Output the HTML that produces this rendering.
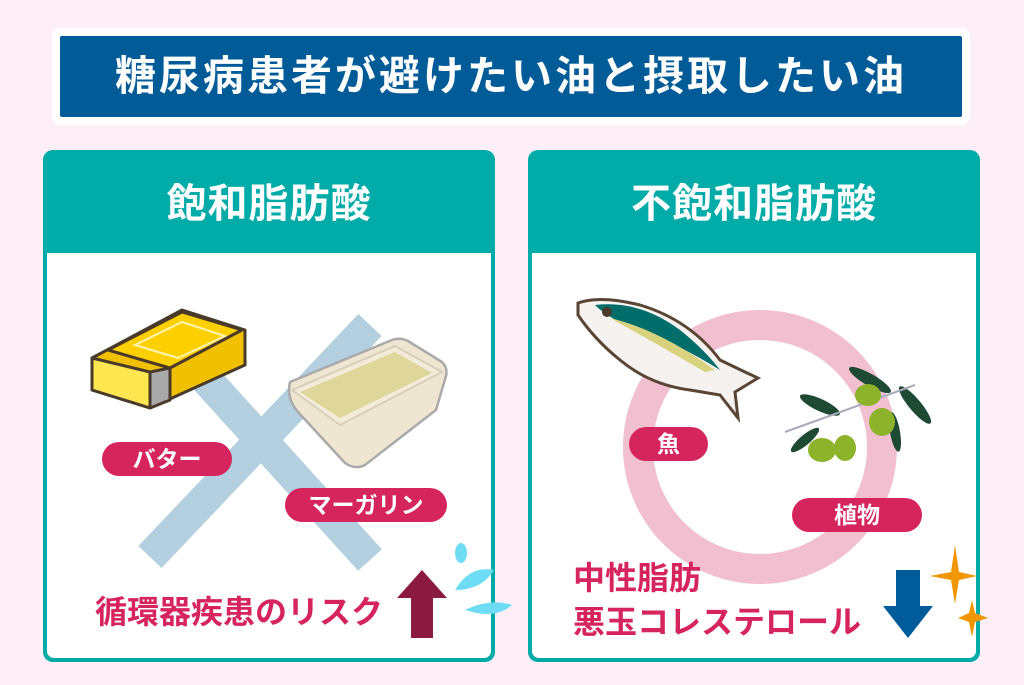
<!DOCTYPE html>
<html><head><meta charset="utf-8"><style>
*{margin:0;padding:0;box-sizing:border-box}
body{width:1024px;height:685px;background:#fdeef7;position:relative;overflow:hidden;font-family:"Liberation Sans","Noto Sans CJK JP",sans-serif;font-weight:bold}
.abs{position:absolute}
.frame{left:52px;top:28px;width:918px;height:97px;background:#fff;border-radius:8px}
.title{left:60px;top:36px;width:902px;height:81px;background:#005b97;border-radius:2px;color:#fff;font-size:41px;text-align:center;line-height:81px;letter-spacing:3px}
.panel{background:#00aba8;border-radius:10px;top:150px;width:452px;height:512px}
.panel .hd{color:#fff;font-size:40px;text-align:center;line-height:108px;height:103px;letter-spacing:1px}
.panel .bd{position:absolute;left:4px;right:4px;top:103px;bottom:4px;background:#fff;border-radius:0 0 7px 7px}
.pill{background:#d6245c;color:#fff;border-radius:17px;height:34px;line-height:34px;text-align:center;font-size:23px}
.red{color:#d6245c;font-size:32px;white-space:nowrap;line-height:40px}
</style></head><body>
<div class="abs frame"></div>
<div class="abs title">糖尿病患者が避けたい油と摂取したい油</div>
<div class="abs panel" style="left:43px"><div class="hd">飽和脂肪酸</div><div class="bd"></div></div>
<div class="abs panel" style="left:528px"><div class="hd">不飽和脂肪酸</div><div class="bd"></div></div>
<svg class="abs" style="left:0;top:0" width="1024" height="685">
<g stroke="#b3cfe0" stroke-width="32">
<line x1="150" y1="557" x2="370" y2="325"/>
<line x1="175" y1="345" x2="370" y2="560"/>
</g>
<circle cx="760" cy="447" r="122" fill="none" stroke="#f2bfd0" stroke-width="30"/>
<g stroke="#4a3a2a" stroke-width="3" stroke-linejoin="round">
<polygon points="92,358 182,310 245,330 245,365 150,408 92,390" fill="#f1c000"/>
<polygon points="92,358 150,372 150,408 92,390" fill="#fde650"/>
<polygon points="108,350 182,312 242,330 170,368" fill="#ffd000"/>
<polygon points="150,372 170,368 170,400 150,408" fill="#aaa"/>
</g>
<polygon points="135,345 182,322 225,336 178,358" fill="none" stroke="#fff5b0" stroke-width="2"/>
<path d="M290,382 L392,340 Q400,337 408,341 L442,362 Q448,368 446,376 L436,410 L365,465 Q355,470 345,463 L298,412 Q286,398 290,382Z" fill="#efe6d2" stroke="#aaa" stroke-width="2.5" stroke-linejoin="round"/>
<path d="M292,390 L395,346 L442,372 L340,425Z" fill="#f3ecdb" stroke="#d8cfba" stroke-width="2"/>
<path d="M300,392 L395,352 L432,373 L340,418Z" fill="#dfd79a"/>
<polygon points="422,570 447,598 433,598 433,638 411,638 411,598 397,598" fill="#8b1a40"/>
<polygon points="908,638 933,606 920,606 920,570 896,570 896,606 883,606" fill="#005b9a"/>
<g fill="#6fdcf5"><ellipse cx="461" cy="553" rx="6" ry="10"/><path d="M455,590 Q470,565 494,570 Q482,590 455,590Z"/><path d="M465,610 Q490,598 512,605 Q495,620 465,610Z"/></g>
<g fill="#f29600">
<path d="M955,545 L959,572 L977,576 L959,580 L955,604 L951,580 L930,576 L951,572Z"/>
<path d="M972,600 L975,613 L988,618 L975,622 L972,637 L969,622 L958,618 L969,613Z"/>
</g>
<path d="M578,303 Q600,295 640,305 Q690,320 720,360 L745,372 L758,378 L735,392 L738,418 L720,395 L690,390 Q650,385 620,360 Q595,340 578,315Z" fill="#f5f2f0" stroke="#5a4535" stroke-width="3"/>
<path d="M595,305 Q640,300 680,330 Q705,350 720,370 Q680,345 640,330 Q610,320 595,305Z" fill="#006d6a"/>
<path d="M610,318 Q660,330 715,370 L705,372 Q650,340 610,318Z" fill="#d8d27e"/>
<circle cx="607" cy="312" r="5" fill="#4a3a2a"/>
<g fill="#1e4a34"><ellipse cx="820" cy="405" rx="22" ry="6" transform="rotate(25 820 405)"/><ellipse cx="870" cy="380" rx="24" ry="6" transform="rotate(30 870 380)"/><ellipse cx="915" cy="405" rx="24" ry="6" transform="rotate(50 915 405)"/><ellipse cx="805" cy="440" rx="18" ry="5" transform="rotate(-40 805 440)"/><ellipse cx="895" cy="432" rx="20" ry="5" transform="rotate(80 895 432)"/></g>
<line x1="785" y1="432" x2="915" y2="385" stroke="#aab" stroke-width="2"/>
<g fill="#8cb32a"><ellipse cx="868" cy="395" rx="13" ry="11"/><ellipse cx="882" cy="422" rx="13" ry="14"/><ellipse cx="822" cy="450" rx="14" ry="12"/><ellipse cx="845" cy="448" rx="11" ry="13"/></g>
</svg>
<div class="abs pill" style="left:102px;top:442px;width:130px">バター</div>
<div class="abs pill" style="left:285px;top:488px;width:162px">マーガリン</div>
<div class="abs pill" style="left:629px;top:427px;width:79px">魚</div>
<div class="abs pill" style="left:792px;top:498px;width:130px">植物</div>
<div class="abs red" style="left:95px;top:592px">循環器疾患のリスク</div>
<div class="abs red" style="left:573px;top:558px">中性脂肪</div>
<div class="abs red" style="left:573px;top:602px">悪玉コレステロール</div>
</body></html>
